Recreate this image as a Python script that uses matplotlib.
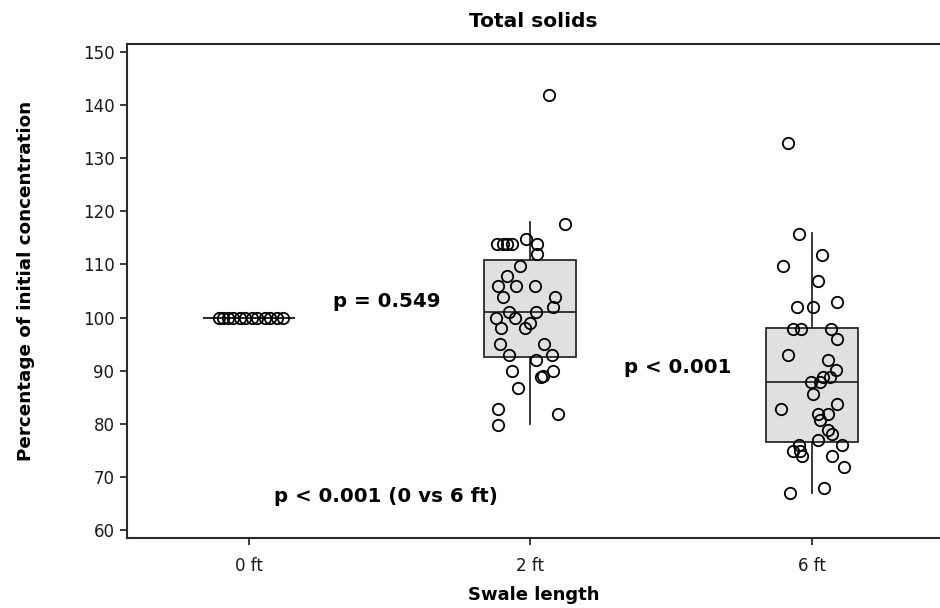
import matplotlib
matplotlib.use("Agg")
import matplotlib.pyplot as plt
import numpy as np

plt.rcParams['font.family'] = ['DejaVu Sans']

# ---------------- data ----------------
categories = ["0 ft", "2 ft", "6 ft"]

vals_0ft = [100] * 12
jit_0ft = [-0.107, -0.092, -0.075, -0.057, -0.032, -0.014, 0.011, 0.028, 0.057, 0.075, 0.099, 0.121]

vals_2ft = [141.9, 117.7, 113.9, 113.9, 113.9, 113.9, 114.8, 113.9, 111.9, 109.8,
            107.9, 105.9, 105.9, 105.9, 103.9, 103.9, 101.9, 101.0, 101.0, 100.0,
            99.9, 98.9, 98.0, 98.0, 95.0, 95.0, 93.0, 93.0, 92.0, 90.0,
            90.0, 89.0, 88.8, 86.7, 82.7, 81.9, 79.8]
jit_2ft = [0.067, 0.124, -0.117, -0.099, -0.082, -0.067, -0.014, 0.025, 0.025, -0.036,
           -0.082, -0.114, -0.050, 0.018, -0.099, 0.089, 0.082, 0.021, -0.075, -0.121,
           -0.053, 0.000, -0.103, -0.018, -0.107, 0.050, -0.075, 0.075, 0.021, -0.067,
           0.082, 0.043, 0.036, -0.043, -0.114, 0.099, -0.114]

vals_6ft = [132.9, 115.8, 111.8, 109.8, 106.8, 101.9, 101.9, 102.9, 97.9, 97.9,
            97.9, 96.0, 93.0, 92.1, 90.1, 88.8, 88.8, 87.8, 87.8, 85.7,
            83.8, 82.8, 81.9, 81.9, 80.8, 78.9, 78.0, 76.9, 76.1, 76.0,
            74.9, 74.9, 73.9, 73.9, 71.9, 67.9, 67.0]
jit_6ft = [-0.085, -0.046, 0.036, -0.103, 0.021, -0.053, 0.004, 0.089, -0.067, -0.039,
           0.067, 0.089, -0.085, 0.057, 0.085, 0.064, 0.039, 0.028, -0.004, 0.004,
           0.089, -0.110, 0.021, 0.057, 0.028, 0.057, 0.071, 0.021, -0.046, 0.107,
           -0.067, -0.043, -0.036, 0.071, 0.114, 0.043, -0.078]

# box statistics
box_q1 = [100.0, 92.5, 76.6]
box_med = [100.0, 101.0, 87.8]
box_q3 = [100.0, 110.9, 98.1]
box_lo = [100.0, 79.9, 67.0]
box_hi = [100.0, 118.0, 116.0]

title = "Total solids"
xlabel = "Swale length"
ylabel = "Percentage of initial concentration"
yticks = [60, 70, 80, 90, 100, 110, 120, 130, 140, 150]

# ---------------- figure ----------------
W, H = 940, 608
fig = plt.figure(figsize=(W / 100, H / 100), dpi=100)
left, right, top, bottom = 127, 940, 44, 538
ax = fig.add_axes([left / W, 1 - bottom / H, (right - left) / W, (bottom - top) / H])

edge = "#2a2a2a"
stats = []
for i in range(3):
    stats.append(dict(med=box_med[i], q1=box_q1[i], q3=box_q3[i],
                      whislo=box_lo[i], whishi=box_hi[i], fliers=[]))
ax.bxp(stats, positions=[0, 1, 2], widths=0.327, patch_artist=True,
       showcaps=False, showfliers=False,
       boxprops=dict(facecolor="#e0e0e0", edgecolor=edge, linewidth=1.3),
       medianprops=dict(color=edge, linewidth=1.3),
       whiskerprops=dict(color=edge, linewidth=1.3), zorder=2)

for i, (v, j) in enumerate([(vals_0ft, jit_0ft), (vals_2ft, jit_2ft), (vals_6ft, jit_6ft)]):
    ax.plot(np.array(j) + i, v, linestyle="none", marker="o", markersize=8.2,
            markerfacecolor="none", markeredgecolor="black", markeredgewidth=1.3, zorder=3)

ax.set_xlim(-0.433, 2.455)
ax.set_ylim(58.5, 151.5)
ax.set_xticks([0, 1, 2])
ax.set_xticklabels(categories)
ax.set_yticks(yticks)

for s in ["left", "bottom", "top"]:
    ax.spines[s].set_color(edge)
    ax.spines[s].set_linewidth(1.5)
ax.spines["right"].set_visible(False)
ax.tick_params(axis="both", direction="out", length=5, width=1.3, color=edge,
               labelsize=12, colors="#1a1a1a", pad=4)
ax.tick_params(axis="x", pad=9)

ax.set_title(title, fontsize=14.5, fontweight="bold", pad=12)
ax.set_xlabel(xlabel, fontsize=13, fontweight="bold")
ax.set_ylabel(ylabel, fontsize=13.2, fontweight="bold")
ax.xaxis.set_label_coords(0.5, -0.097)
ax.yaxis.set_label_coords(-0.113, 0.52)

ax.text(0.49, 103.0, "p = 0.549", fontsize=14.3, fontweight="bold", ha="center", va="center")
ax.text(1.524, 90.6, "p < 0.001", fontsize=14.3, fontweight="bold", ha="center", va="center")
ax.text(0.487, 66.3, "p < 0.001 (0 vs 6 ft)", fontsize=14.3, fontweight="bold", ha="center", va="center")

fig.savefig("out.png", dpi=100)
